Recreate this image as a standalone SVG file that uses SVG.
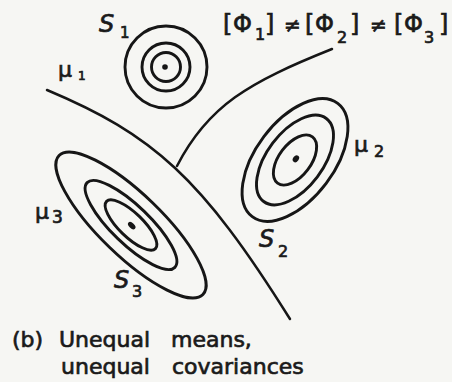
<svg xmlns="http://www.w3.org/2000/svg" width="452" height="382" viewBox="0 0 452 382">
  <style>
    .ring { fill: none; stroke: #161616; stroke-width: 2.9; }
    .dot { fill: #161616; }
    .bound { fill: none; stroke: #161616; stroke-width: 2.5; stroke-linecap: round; }
    .t { font-family: "DejaVu Sans", "Liberation Sans", sans-serif; fill: #1a1a1a; stroke: #1a1a1a; stroke-width: 0.7; }
    .s { font-style: italic; font-size: 24px; }
    .mu { font-size: 22px; }
    .cap { font-size: 22px; }
  </style>
  <rect x="0" y="0" width="452" height="382" fill="#f6f6f3"/>

  <g id="connectors">
    <path id="boundary-1" class="bound" d="M47,90 C153,134.5 201.4,177.2 290,319"/>
    <path id="boundary-2" class="bound" d="M177,166 C208,105.5 249,82.2 332,49"/>
  </g>

  <g id="class-1">
    <circle class="ring" cx="166" cy="67" r="41"/>
    <circle class="ring" cx="166" cy="67" r="24"/>
    <circle class="ring" cx="166" cy="67" r="14.5"/>
    <circle class="dot" cx="165" cy="67" r="2.8"/>
    <text class="t s" x="99" y="32">S</text>
    <text class="t" x="120" y="38" font-size="15">1</text>
    <text class="t mu" x="58" y="77">μ</text>
    <text class="t" x="78" y="80" font-size="12">1</text>
  </g>

  <g id="class-2">
    <g transform="translate(295,160) rotate(-53)">
      <ellipse class="ring" cx="0" cy="0" rx="71" ry="39"/>
      <ellipse class="ring" cx="0" cy="0" rx="52" ry="28"/>
      <ellipse class="ring" cx="0" cy="0" rx="29" ry="16"/>
      <ellipse class="dot" cx="1.5" cy="0" rx="3.8" ry="2.8"/>
    </g>
    <text class="t mu" x="354" y="152">μ</text>
    <text class="t" x="374" y="157" font-size="16">2</text>
    <text class="t s" x="259" y="247">S</text>
    <text class="t" x="278" y="257" font-size="16">2</text>
  </g>

  <g id="class-3">
    <g transform="translate(131,225) rotate(44)">
      <ellipse class="ring" cx="0" cy="0" rx="100" ry="31"/>
      <ellipse class="ring" cx="0" cy="0" rx="61" ry="19"/>
      <ellipse class="ring" cx="0" cy="0" rx="34" ry="12"/>
      <ellipse class="dot" cx="1" cy="0" rx="4.5" ry="2.6"/>
    </g>
    <text class="t mu" x="35" y="219" font-size="20">μ</text>
    <text class="t" x="52" y="223" font-size="17">3</text>
    <text class="t s" x="114" y="288">S</text>
    <text class="t" x="132" y="297" font-size="16">3</text>
  </g>

  <g id="equation" class="t">
    <text x="223" y="32" font-size="24">[</text>
    <text x="233" y="32" font-size="24">Φ</text>
    <text x="255" y="40" font-size="16">1</text>
    <text x="265" y="32" font-size="24">]</text>
    <text x="284" y="32" font-size="20">≠</text>
    <text x="305" y="32" font-size="24">[</text>
    <text x="315" y="32" font-size="24">Φ</text>
    <text x="337" y="43" font-size="16">2</text>
    <text x="350" y="32" font-size="24">]</text>
    <text x="370" y="32" font-size="20">≠</text>
    <text x="394" y="32" font-size="24">[</text>
    <text x="404" y="32" font-size="24">Φ</text>
    <text x="424" y="43" font-size="16">3</text>
    <text x="439" y="32" font-size="24">]</text>
  </g>

  <g id="caption" class="t cap">
    <text x="12" y="347">(b)</text>
    <text x="59" y="347">Unequal</text>
    <text x="171" y="347">means,</text>
    <text x="61" y="374">unequal</text>
    <text x="172" y="374">covariances</text>
  </g>
</svg>
